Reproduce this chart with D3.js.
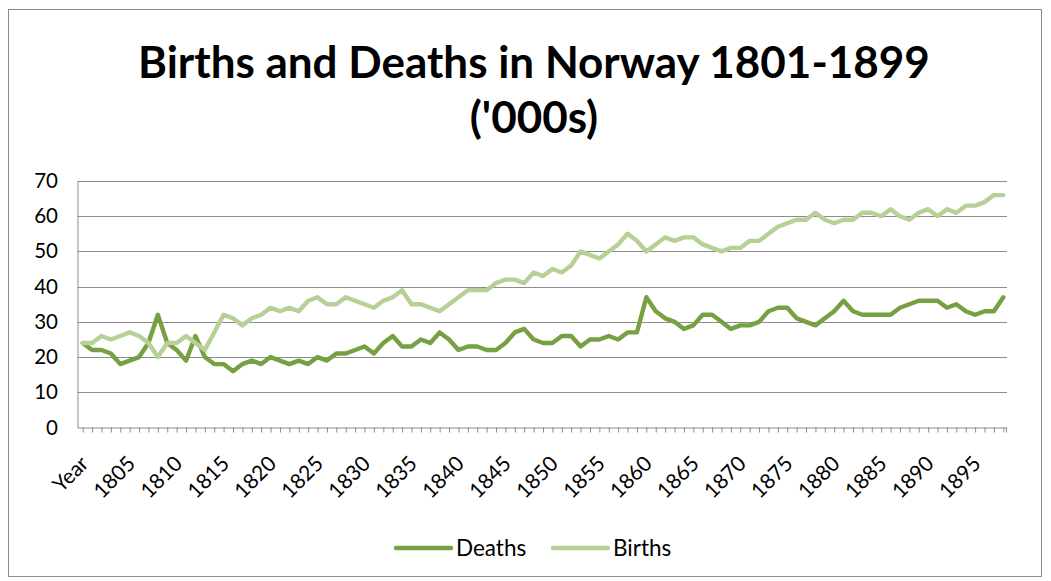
<!DOCTYPE html>
<html><head><meta charset="utf-8">
<script src="https://cdn.jsdelivr.net/npm/d3@7"></script>
<style>
html,body{margin:0;padding:0;background:#fff;}
svg{display:block;font-family:Lato,"Open Sans",sans-serif;}
</style></head>
<body>
<svg id="chart" width="1051" height="581"></svg>
<script>
// Categories: header "Year" then 1801..1898 (as in the source sheet)
const categories = ["Year"].concat(d3.range(1801, 1899).map(String));
const deaths = [24,22,22,21,18,19,20,24,32,24,22,19,26,20,18,18,16,18,19,18,20,19,18,19,18,20,19,21,
  21,22,23,21,24,26,23,23,25,24,27,25,22,23,23,22,22,24,27,28,25,24,24,26,26,23,25,25,
  26,25,27,27,37,33,31,30,28,29,32,32,30,28,29,29,30,33,34,34,31,30,29,31,33,36,33,32,32,32,
  32,34,35,36,36,36,34,35,33,32,33,33,37];
const births = [24,24,26,25,26,27,26,24,20,24,24,26,24,22,27,32,31,29,31,32,34,33,34,33,36,37,35,35,
  37,36,35,34,36,37,39,35,35,34,33,35,37,39,39,39,41,42,42,41,44,43,45,44,46,50,49,48,
  50,52,55,53,50,52,54,53,54,54,52,51,50,51,51,53,53,55,57,58,59,59,61,59,58,59,59,61,61,60,
  62,60,59,61,62,60,62,61,63,63,64,66,66];
const yTicks = [0,10,20,30,40,50,60,70];
const seriesNames = ["Deaths","Births"];
const seriesColors = ["#77a043","#b6d095"];

const svg = d3.select("#chart");

// outer frame
svg.append("rect").attr("x",8.5).attr("y",9.5).attr("width",1033).attr("height",567)
  .attr("fill","#fff").attr("stroke","#8c8c8c").attr("stroke-width",1);

const plotLeft = 77.5, plotRight = 1007, plotTop = 181, plotBottom = 427.5;
const x = d3.scalePoint().domain(categories).range([82.7, 1003.3]);
const y = d3.scaleLinear().domain([0,70]).range([plotBottom, plotTop]);

// title
const title = svg.append("text").attr("text-anchor","middle").attr("font-weight","700")
  .attr("fill","#000").attr("font-size",44);
title.append("tspan").attr("x",534).attr("y",78).text("Births and Deaths in Norway 1801-1899");
title.append("tspan").attr("x",534).attr("y",133).text("('000s)");

// gridlines
svg.append("g").selectAll("line").data(yTicks.filter(d=>d>0)).join("line")
  .attr("x1",plotLeft).attr("x2",plotRight)
  .attr("y1",d=>Math.round(y(d))+0.5).attr("y2",d=>Math.round(y(d))+0.5)
  .attr("stroke","#8c8c8c").attr("stroke-width",1);

// y axis
const yAxis = svg.append("g").attr("transform",`translate(${plotLeft},0)`)
  .call(d3.axisLeft(y).tickValues(yTicks).tickSize(0).tickPadding(19.5));
yAxis.select(".domain").attr("stroke","#8c8c8c");
yAxis.selectAll("text").attr("font-size",20.5).attr("fill","#000").attr("font-family","Lato,sans-serif");

// x axis
const xAxis = svg.append("g").attr("transform",`translate(0,${plotBottom})`)
  .call(d3.axisBottom(x).tickSize(5).tickFormat((d,i)=> i%5===0 ? d : ""));
xAxis.select(".domain").attr("d",`M${plotLeft},0.5H${plotRight}`).attr("stroke","#8c8c8c");
xAxis.selectAll(".tick line").attr("stroke","#8c8c8c");
xAxis.append("line").attr("x1",plotRight-0.5).attr("x2",plotRight-0.5).attr("y1",0).attr("y2",5).attr("stroke","#8c8c8c");
xAxis.selectAll(".tick text")
  .attr("font-size",21).attr("fill","#000").attr("font-family","Lato,sans-serif")
  .attr("text-anchor","end").attr("dy",0)
  .attr("transform","translate(6.5,37.5) rotate(-45)").attr("y",0).attr("x",0);

// lines
const line = d3.line().x((d,i)=>x(categories[i])).y(d=>y(d));
[deaths, births].forEach((s,k)=>{
  svg.append("path").datum(s).attr("d",line).attr("fill","none")
    .attr("stroke",seriesColors[k]).attr("stroke-width",4.4)
    .attr("stroke-linejoin","round").attr("stroke-linecap","round");
});

// legend
const legend = svg.append("g");
const legX = [396, 553];
seriesNames.forEach((n,k)=>{
  legend.append("line").attr("x1",legX[k]).attr("x2",legX[k]+55).attr("y1",548).attr("y2",548)
    .attr("stroke",seriesColors[k]).attr("stroke-width",4.4).attr("stroke-linecap","round");
  legend.append("text").attr("x",legX[k]+60).attr("y",555.5).attr("font-size",22.5).attr("fill","#000")
    .attr("font-family","Lato,sans-serif").text(n);
});
</script>
</body></html>
